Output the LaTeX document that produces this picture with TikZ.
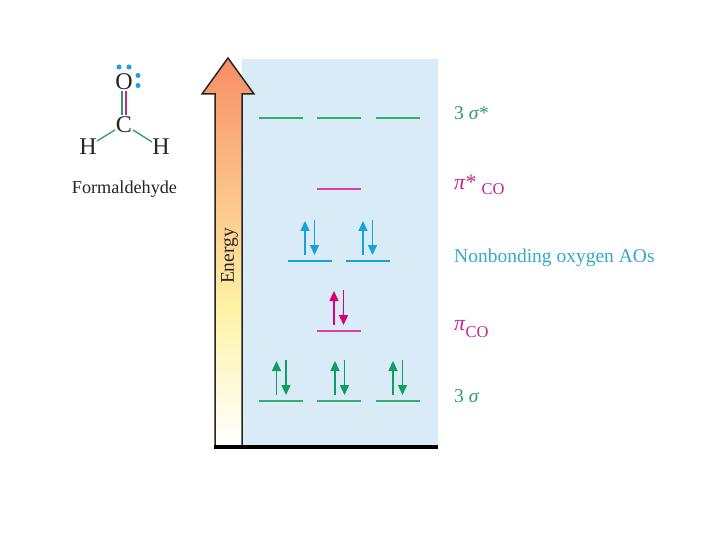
\documentclass[tikz,border=0pt]{standalone}
\usepackage{fontspec}
\setmainfont{Liberation Serif}
\usetikzlibrary{arrows.meta}
\definecolor{panel}{HTML}{D9EBF6}
\definecolor{mogreen}{HTML}{0E9F60}
\definecolor{mopink}{HTML}{D6007F}
\definecolor{moblue}{HTML}{17A3D6}
\definecolor{lblgreen}{HTML}{2E9A72}
\definecolor{lblpink}{HTML}{C4268C}
\definecolor{lblblue}{HTML}{35A9C8}
\definecolor{gradtop}{HTML}{F88D64}
\definecolor{gradmid}{HTML}{FFF3A6}
\tikzset{
  x=1pt,y=-1pt,
  atom/.style={font=\fontsize{24}{24}\selectfont,text=black!85,inner sep=0pt},
  lbl/.style={anchor=base west,inner sep=0pt,font=\fontsize{19.5}{19.5}\selectfont},
  bond/.style={line width=1.3pt},
  lonepair/.style={circle,fill=moblue,draw=none,minimum size=5pt,inner sep=0pt},
  levelline/.style={line width=1.1pt},
  spinarrow/.style={line width=1.5pt,-{Triangle[length=10pt,width=9pt]}},
}
\newcommand{\orbital}[4]{% name, colour, left x, y
  \coordinate (#1a) at (#3,#4);
  \coordinate (#1b) at (#3+44,#4);
  \draw[levelline,#2] (#1a) -- (#1b);
}
\newcommand{\pairarrows}[4]{% name, colour, up x, bottom y
  \coordinate (#1ua) at (#3,#4);
  \coordinate (#1ub) at (#3,#4-34);
  \coordinate (#1da) at (#3+9.5,#4-35);
  \coordinate (#1db) at (#3+9.5,#4);
  \draw[spinarrow,#2] (#1ua) -- (#1ub);
  \draw[spinarrow,#2] (#1da) -- (#1db);
}
\begin{document}
\begin{tikzpicture}
\useasboundingbox (0,0) rectangle (720,540);
\fill[white] (0,0) rectangle (720,540);
% panel
\fill[panel] (242,59) rectangle (438,446);
% energy arrow
\shade[top color=gradtop,bottom color=gradmid] (215,94) -- (202,94) -- (228,58) -- (254,94) -- (242,94) -- (242,310) -- (215,310) -- cycle;
\shade[top color=gradmid,bottom color=white] (215,310) rectangle (242,446);
\draw[line width=1.5pt,black!85,line join=miter] (215,446) -- (215,94) -- (202,94) -- (228,58) -- (254,94) -- (242,94) -- (242,446);
\fill[black] (214,445) rectangle (438,449);
\node[rotate=90,inner sep=0pt,font=\fontsize{19.5}{19.5}\selectfont,text=black!85] (energy) at (229.5,256) {Energy};
% molecule
\node[atom] (O) at (124,82) {O};
\node[atom] (C) at (124,125) {C};
\node[atom] (H1) at (88,147) {H};
\node[atom] (H2) at (161,147) {H};
\draw[bond,lblgreen] ([xshift=-1.9pt,yshift=-1pt]O.south) -- ([xshift=-1.9pt,yshift=2pt]C.north);
\draw[bond,lblpink] ([xshift=1.9pt,yshift=-1pt]O.south) -- ([xshift=1.9pt,yshift=2pt]C.north);
\coordinate (b1a) at (115,130); \coordinate (b1b) at (97,141);
\coordinate (b2a) at (133,130); \coordinate (b2b) at (152,142);
\draw[bond,lblgreen] (b1a) -- (b1b);
\draw[bond,lblgreen] (b2a) -- (b2b);
\node[lonepair] (lp1) at (119,67) {};
\node[lonepair] (lp2) at (129,67) {};
\node[lonepair] (lp3) at (138,75.5) {};
\node[lonepair] (lp4) at (138,85.5) {};
\node[inner sep=0pt,font=\fontsize{18.2}{18.2}\selectfont,text=black!85] (name) at (124.5,189) {Formaldehyde};
% levels
\orbital{sa}{mogreen!85}{259}{118}
\orbital{sb}{mogreen!85}{317}{118}
\orbital{sc}{mogreen!85}{376}{118}
\orbital{ps}{mopink!75}{317}{189}
\orbital{na}{moblue}{288}{261}
\orbital{nb}{moblue}{346}{261}
\orbital{pi}{mopink!75}{317}{331}
\orbital{ga}{mogreen!85}{259}{401}
\orbital{gb}{mogreen!85}{317}{401}
\orbital{gc}{mogreen!85}{376}{401}
% electrons
\pairarrows{ea}{moblue}{305}{255}
\pairarrows{eb}{moblue}{363}{255}
\pairarrows{ec}{mopink}{334}{325}
\pairarrows{ed}{mogreen}{276.5}{395}
\pairarrows{ee}{mogreen}{335}{395}
\pairarrows{ef}{mogreen}{393}{395}
% labels
\node[lbl,text=lblgreen] (l1) at (454,120) {3 \textit{σ}*};
\node[lbl,text=lblpink] (l2) at (454,195) {\raisebox{5pt}{\fontsize{22}{22}\selectfont\textit{π}*} {\fontsize{16.5}{16.5}\selectfont CO}};
\node[lbl,text=lblblue] (l3) at (454,262) {Nonbonding oxygen AOs};
\node[lbl,text=lblpink] (l4) at (454,337) {\raisebox{7pt}{\fontsize{22}{22}\selectfont\textit{π}}{\fontsize{16.5}{16.5}\selectfont CO}};
\node[lbl,text=lblgreen] (l5) at (454,402) {3 \textit{σ}};
\end{tikzpicture}
\end{document}
